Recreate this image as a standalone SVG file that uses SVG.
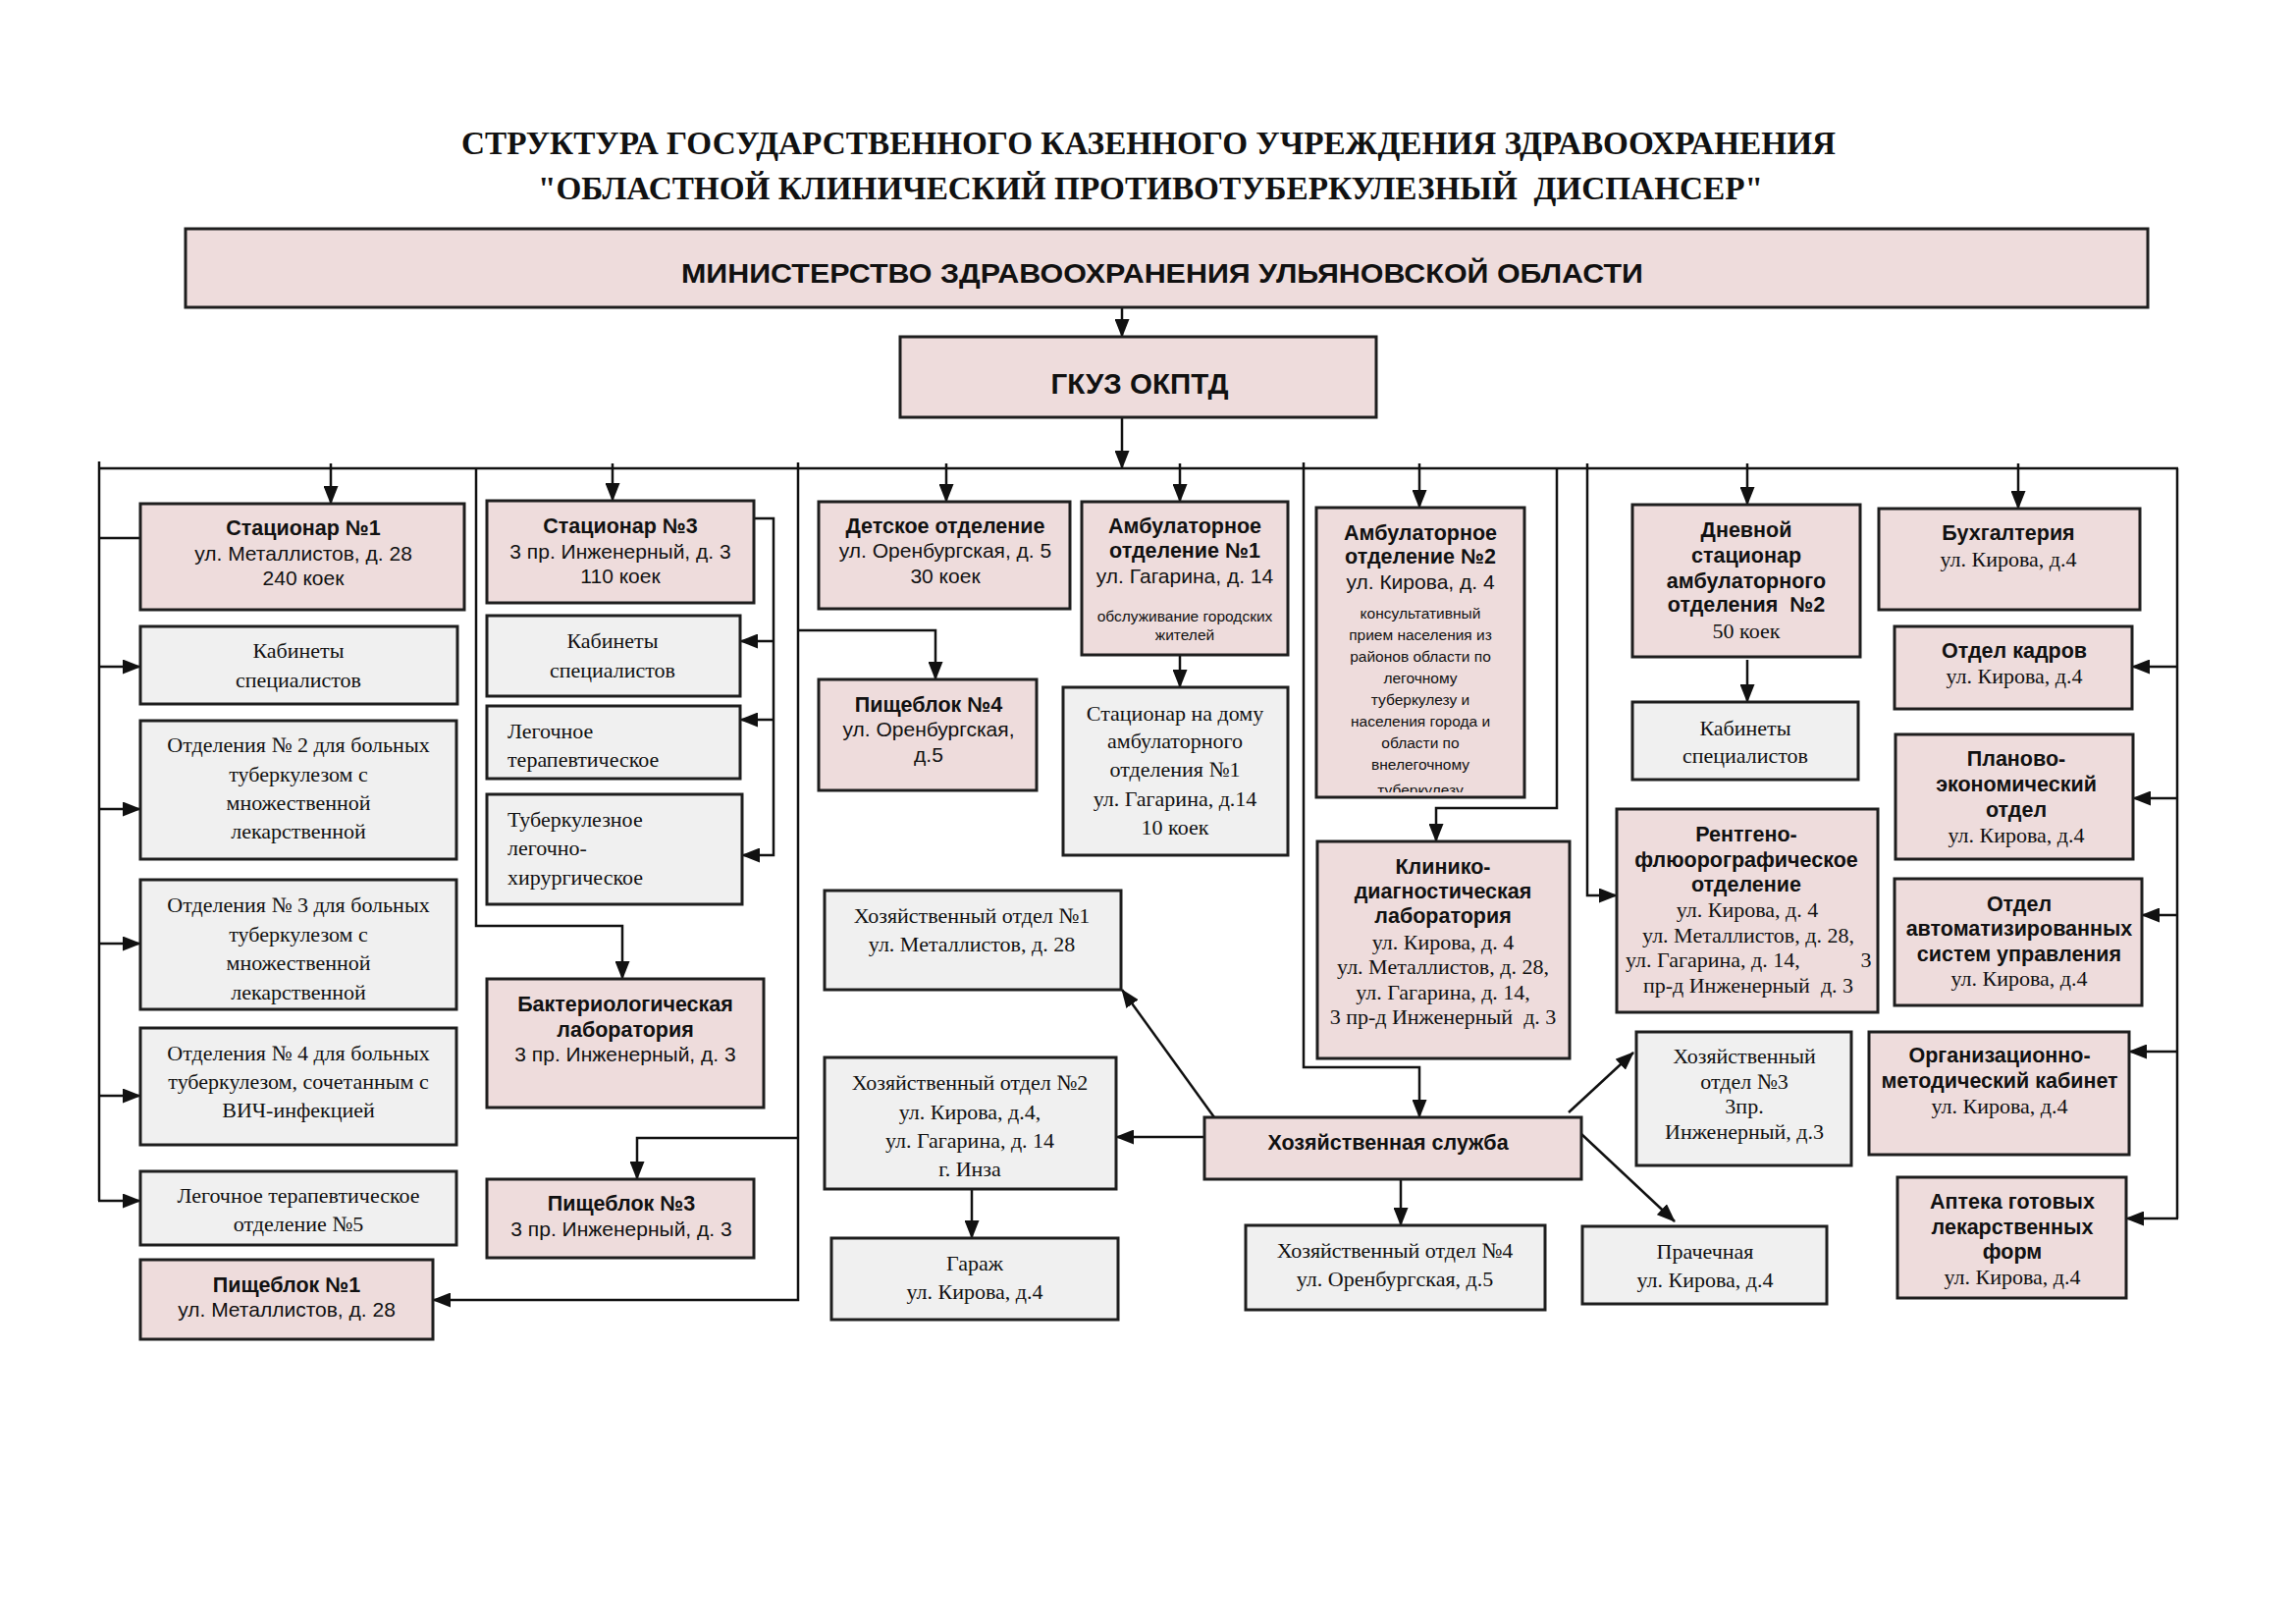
<svg xmlns="http://www.w3.org/2000/svg" width="2339" height="1653" viewBox="0 0 2339 1653">
<style>
.pk{fill:#eedcdc;stroke:#1e1e1e;stroke-width:3}
.gr{fill:#f0f0f0;stroke:#1e1e1e;stroke-width:3}
text{text-anchor:middle;fill:#111}
.h{font-family:"Liberation Serif","Times New Roman",serif;font-weight:bold;font-size:34px}
.m{font-family:"Liberation Sans",Arial,sans-serif;font-weight:bold;font-size:28px}
.g{font-family:"Liberation Sans",Arial,sans-serif;font-weight:bold;font-size:29.5px}
.b{font-family:"Liberation Sans",Arial,sans-serif;font-weight:bold;font-size:21.5px}
.a{font-family:"Liberation Sans",Arial,sans-serif;font-size:21px}
.t{font-family:"Liberation Serif","Times New Roman",serif;font-size:22px}
.s{font-family:"Liberation Sans",Arial,sans-serif;font-size:15.5px}
.l{text-anchor:start}
.c{fill:none;stroke:#111;stroke-width:2.5}
.pre{white-space:pre}
</style>
<defs>
<marker id="ar" markerUnits="userSpaceOnUse" markerWidth="19" markerHeight="15" refX="18" refY="7.5" orient="auto">
<path d="M0,0 L19,7.5 L0,15 z" fill="#111"/>
</marker>
<clipPath id="clipAmb2"><rect x="1342" y="518" width="210" height="289"/></clipPath>
<clipPath id="clipOtd3"><rect x="144" y="897" width="320" height="130"/></clipPath>
</defs>
<rect width="2339" height="1653" fill="#ffffff"/>

<g id="title">
<text class="h" x="1170" y="157" textLength="1400" lengthAdjust="spacingAndGlyphs">СТРУКТУРА ГОСУДАРСТВЕННОГО КАЗЕННОГО УЧРЕЖДЕНИЯ ЗДРАВООХРАНЕНИЯ</text>
<text class="h pre" x="1172" y="203" textLength="1248" lengthAdjust="spacingAndGlyphs">"ОБЛАСТНОЙ КЛИНИЧЕСКИЙ ПРОТИВОТУБЕРКУЛЕЗНЫЙ  ДИСПАНСЕР"</text>
</g>

<g id="connectors">
<line class="c" x1="1143" y1="313" x2="1143" y2="343" marker-end="url(#ar)"/>
<line class="c" x1="1143" y1="425" x2="1143" y2="477" marker-end="url(#ar)"/>
<line class="c" x1="100" y1="477" x2="2219" y2="477"/>
<line class="c" x1="337" y1="472" x2="337" y2="513" marker-end="url(#ar)"/>
<line class="c" x1="624" y1="472" x2="624" y2="510" marker-end="url(#ar)"/>
<line class="c" x1="964" y1="472" x2="964" y2="511" marker-end="url(#ar)"/>
<line class="c" x1="1202" y1="472" x2="1202" y2="511" marker-end="url(#ar)"/>
<line class="c" x1="1446" y1="472" x2="1446" y2="517" marker-end="url(#ar)"/>
<line class="c" x1="1780" y1="472" x2="1780" y2="514" marker-end="url(#ar)"/>
<line class="c" x1="2056" y1="472" x2="2056" y2="518" marker-end="url(#ar)"/>
<polyline class="c" points="101,470 101,1223"/>
<line class="c" x1="101" y1="548" x2="143" y2="548"/>
<line class="c" x1="101" y1="679" x2="143" y2="679" marker-end="url(#ar)"/>
<line class="c" x1="101" y1="824" x2="143" y2="824" marker-end="url(#ar)"/>
<line class="c" x1="101" y1="961" x2="143" y2="961" marker-end="url(#ar)"/>
<line class="c" x1="101" y1="1116" x2="143" y2="1116" marker-end="url(#ar)"/>
<line class="c" x1="100" y1="1223" x2="143" y2="1223" marker-end="url(#ar)"/>
<polyline class="c" points="485,477 485,943 634,943 634,997" marker-end="url(#ar)"/>
<polyline class="c" points="813,471 813,1324 441,1324" marker-end="url(#ar)"/>
<polyline class="c" points="813,642 953,642 953,692" marker-end="url(#ar)"/>
<polyline class="c" points="813,1159 649,1159 649,1201" marker-end="url(#ar)"/>
<polyline class="c" points="768,528 788,528 788,871 756,871" marker-end="url(#ar)"/>
<line class="c" x1="788" y1="653" x2="754" y2="653" marker-end="url(#ar)"/>
<line class="c" x1="788" y1="733" x2="754" y2="733" marker-end="url(#ar)"/>
<line class="c" x1="1202" y1="667" x2="1202" y2="700" marker-end="url(#ar)"/>
<polyline class="c" points="1328,471 1328,1087 1446,1087 1446,1138" marker-end="url(#ar)"/>
<polyline class="c" points="1586,477 1586,823 1463,823 1463,857" marker-end="url(#ar)"/>
<polyline class="c" points="1617,472 1617,912 1647,912" marker-end="url(#ar)"/>
<line class="c" x1="1780" y1="672" x2="1780" y2="715" marker-end="url(#ar)"/>
<line class="c" x1="2218" y1="477" x2="2218" y2="1241"/>
<line class="c" x1="2218" y1="679" x2="2172" y2="679" marker-end="url(#ar)"/>
<line class="c" x1="2218" y1="813" x2="2173" y2="813" marker-end="url(#ar)"/>
<line class="c" x1="2218" y1="932" x2="2182" y2="932" marker-end="url(#ar)"/>
<line class="c" x1="2218" y1="1071" x2="2169" y2="1071" marker-end="url(#ar)"/>
<line class="c" x1="2219" y1="1241" x2="2166" y2="1241" marker-end="url(#ar)"/>
<line class="c" x1="990" y1="1211" x2="990" y2="1261" marker-end="url(#ar)"/>
<line class="c" x1="1237" y1="1138" x2="1143" y2="1008" marker-end="url(#ar)"/>
<line class="c" x1="1227" y1="1158" x2="1137" y2="1158" marker-end="url(#ar)"/>
<line class="c" x1="1427" y1="1201" x2="1427" y2="1248" marker-end="url(#ar)"/>
<line class="c" x1="1598" y1="1133" x2="1664" y2="1072" marker-end="url(#ar)"/>
<line class="c" x1="1611" y1="1155" x2="1706" y2="1244" marker-end="url(#ar)"/>
</g>

<g id="ministry">
<rect class="pk" x="189" y="233" width="1999" height="80"/>
<text class="m" x="1184" y="288" textLength="980" lengthAdjust="spacingAndGlyphs">МИНИСТЕРСТВО ЗДРАВООХРАНЕНИЯ УЛЬЯНОВСКОЙ ОБЛАСТИ</text>
</g>

<g id="gkuz">
<rect class="pk" x="917" y="343" width="485" height="82"/>
<text class="g" x="1161" y="401">ГКУЗ ОКПТД</text>
</g>

<g id="stacionar1">
<rect class="pk" x="143" y="513" width="330" height="108"/>
<text class="b" x="309" y="545">Стационар №1</text>
<text class="a" x="309" y="571">ул. Металлистов, д. 28</text>
<text class="a" x="309" y="596">240 коек</text>
</g>

<g id="kabinety1">
<rect class="gr" x="143" y="638" width="323" height="79"/>
<text class="t" x="304" y="670">Кабинеты</text>
<text class="t" x="304" y="700">специалистов</text>
</g>

<g id="otdelenie2">
<rect class="gr" x="143" y="734" width="322" height="141"/>
<text class="t" x="304" y="766">Отделения № 2 для больных</text>
<text class="t" x="304" y="796">туберкулезом с</text>
<text class="t" x="304" y="825">множественной</text>
<text class="t" x="304" y="854">лекарственной</text>
</g>

<g id="otdelenie3">
<rect class="gr" x="143" y="896" width="322" height="132"/>
<g clip-path="url(#clipOtd3)">
<text class="t" x="304" y="929">Отделения № 3 для больных</text>
<text class="t" x="304" y="959">туберкулезом с</text>
<text class="t" x="304" y="988">множественной</text>
<text class="t" x="304" y="1018">лекарственной</text>
</g>
</g>

<g id="otdelenie4">
<rect class="gr" x="143" y="1047" width="322" height="119"/>
<text class="t" x="304" y="1080">Отделения № 4 для больных</text>
<text class="t" x="304" y="1109">туберкулезом, сочетанным с</text>
<text class="t" x="304" y="1138">ВИЧ-инфекцией</text>
</g>

<g id="legochnoe5">
<rect class="gr" x="143" y="1193" width="322" height="75"/>
<text class="t" x="304" y="1225">Легочное терапевтическое</text>
<text class="t" x="304" y="1254">отделение №5</text>
</g>

<g id="pishcheblok1">
<rect class="pk" x="143" y="1283" width="298" height="81"/>
<text class="b" x="292" y="1316">Пищеблок №1</text>
<text class="a" x="292" y="1341">ул. Металлистов, д. 28</text>
</g>

<g id="stacionar3">
<rect class="pk" x="496" y="510" width="272" height="104"/>
<text class="b" x="632" y="543">Стационар №3</text>
<text class="a" x="632" y="569">3 пр. Инженерный, д. 3</text>
<text class="a" x="632" y="594">110 коек</text>
</g>

<g id="kabinety3">
<rect class="gr" x="496" y="627" width="258" height="82"/>
<text class="t" x="624" y="660">Кабинеты</text>
<text class="t" x="624" y="690">специалистов</text>
</g>

<g id="legochnoe3">
<rect class="gr" x="496" y="719" width="258" height="74"/>
<text class="t l" x="517" y="752">Легочное</text>
<text class="t l" x="517" y="781">терапевтическое</text>
</g>

<g id="tuberkuleznoe3">
<rect class="gr" x="496" y="809" width="260" height="112"/>
<text class="t l" x="517" y="842">Туберкулезное</text>
<text class="t l" x="517" y="871">легочно-</text>
<text class="t l" x="517" y="901">хирургическое</text>
</g>

<g id="bakteriolog">
<rect class="pk" x="496" y="997" width="282" height="131"/>
<text class="b" x="637" y="1030">Бактериологическая</text>
<text class="b" x="637" y="1056">лаборатория</text>
<text class="a" x="637" y="1081">3 пр. Инженерный, д. 3</text>
</g>

<g id="pishcheblok3">
<rect class="pk" x="496" y="1201" width="272" height="80"/>
<text class="b" x="633" y="1233">Пищеблок №3</text>
<text class="a" x="633" y="1259">3 пр. Инженерный, д. 3</text>
</g>

<g id="detskoe">
<rect class="pk" x="834" y="511" width="256" height="109"/>
<text class="b" x="963" y="543">Детское отделение</text>
<text class="a" x="963" y="568">ул. Оренбургская, д. 5</text>
<text class="a" x="963" y="594">30 коек</text>
</g>

<g id="ambulatornoe1">
<rect class="pk" x="1102" y="511" width="210" height="156"/>
<text class="b" x="1207" y="543">Амбулаторное</text>
<text class="b" x="1207" y="568">отделение №1</text>
<text class="a" x="1207" y="594">ул. Гагарина, д. 14</text>
<text class="s" x="1207" y="633">обслуживание городских</text>
<text class="s" x="1207" y="652">жителей</text>
</g>

<g id="pishcheblok4">
<rect class="pk" x="834" y="692" width="222" height="113"/>
<text class="b" x="946" y="725">Пищеблок №4</text>
<text class="a" x="946" y="750">ул. Оренбургская,</text>
<text class="a" x="946" y="776">д.5</text>
</g>

<g id="stacionar-na-domu">
<rect class="gr" x="1083" y="700" width="229" height="171"/>
<text class="t" x="1197" y="734">Стационар на дому</text>
<text class="t" x="1197" y="762">амбулаторного</text>
<text class="t" x="1197" y="791">отделения №1</text>
<text class="t" x="1197" y="821">ул. Гагарина, д.14</text>
<text class="t" x="1197" y="850">10 коек</text>
</g>

<g id="hoz1">
<rect class="gr" x="840" y="907" width="302" height="101"/>
<text class="t" x="990" y="940">Хозяйственный отдел №1</text>
<text class="t" x="990" y="969">ул. Металлистов, д. 28</text>
</g>

<g id="hoz2">
<rect class="gr" x="840" y="1077" width="297" height="134"/>
<text class="t" x="988" y="1110">Хозяйственный отдел №2</text>
<text class="t" x="988" y="1140">ул. Кирова, д.4,</text>
<text class="t" x="988" y="1169">ул. Гагарина, д. 14</text>
<text class="t" x="988" y="1198">г. Инза</text>
</g>

<g id="garazh">
<rect class="gr" x="847" y="1261" width="292" height="83"/>
<text class="t" x="993" y="1294">Гараж</text>
<text class="t" x="993" y="1323">ул. Кирова, д.4</text>
</g>

<g id="hoz-sluzhba">
<rect class="pk" x="1227" y="1138" width="384" height="63"/>
<text class="b" x="1414" y="1171">Хозяйственная служба</text>
</g>

<g id="hoz4">
<rect class="gr" x="1269" y="1248" width="305" height="86"/>
<text class="t" x="1421" y="1281">Хозяйственный отдел №4</text>
<text class="t" x="1421" y="1310">ул. Оренбургская, д.5</text>
</g>

<g id="ambulatornoe2">
<rect class="pk" x="1341" y="517" width="212" height="295"/>
<text class="b" x="1447" y="550">Амбулаторное</text>
<text class="b" x="1447" y="574">отделение №2</text>
<text class="a" x="1447" y="600">ул. Кирова, д. 4</text>
<g clip-path="url(#clipAmb2)">
<text class="s" x="1447" y="630">консультативный</text>
<text class="s" x="1447" y="652">прием населения из</text>
<text class="s" x="1447" y="674">районов области по</text>
<text class="s" x="1447" y="696">легочному</text>
<text class="s" x="1447" y="718">туберкулезу и</text>
<text class="s" x="1447" y="740">населения города и</text>
<text class="s" x="1447" y="762">области по</text>
<text class="s" x="1447" y="784">внелегочному</text>
<text class="s" x="1447" y="810">туберкулезу</text>
</g>
</g>

<g id="kliniko-lab">
<rect class="pk" x="1342" y="857" width="257" height="221"/>
<text class="b" x="1470" y="890">Клинико-</text>
<text class="b" x="1470" y="915">диагностическая</text>
<text class="b" x="1470" y="940">лаборатория</text>
<text class="t" x="1470" y="967">ул. Кирова, д. 4</text>
<text class="t" x="1470" y="992">ул. Металлистов, д. 28,</text>
<text class="t" x="1470" y="1018">ул. Гагарина, д. 14,</text>
<text class="t pre" x="1470" y="1043">3 пр-д Инженерный  д. 3</text>
</g>

<g id="dnevnoy">
<rect class="pk" x="1663" y="514" width="232" height="155"/>
<text class="b" x="1779" y="547">Дневной</text>
<text class="b" x="1779" y="573">стационар</text>
<text class="b" x="1779" y="599">амбулаторного</text>
<text class="b pre" x="1779" y="623">отделения  №2</text>
<text class="t" x="1779" y="650">50 коек</text>
</g>

<g id="kabinety5">
<rect class="gr" x="1663" y="715" width="230" height="79"/>
<text class="t" x="1778" y="749">Кабинеты</text>
<text class="t" x="1778" y="777">специалистов</text>
</g>

<g id="rentgen">
<rect class="pk" x="1647" y="824" width="266" height="207"/>
<text class="b" x="1779" y="857">Рентгено-</text>
<text class="b" x="1779" y="883">флюорографическое</text>
<text class="b" x="1779" y="908">отделение</text>
<text class="t" x="1780" y="934">ул. Кирова, д. 4</text>
<text class="t" x="1781" y="960">ул. Металлистов, д. 28,</text>
<text class="t l" x="1656" y="985">ул. Гагарина, д. 14,</text>
<text class="t" x="1901" y="985">3</text>
<text class="t pre" x="1781" y="1011">пр-д Инженерный  д. 3</text>
</g>

<g id="buhgalteriya">
<rect class="pk" x="1914" y="518" width="266" height="103"/>
<text class="b" x="2046" y="550">Бухгалтерия</text>
<text class="t" x="2046" y="577">ул. Кирова, д.4</text>
</g>

<g id="otdel-kadrov">
<rect class="pk" x="1930" y="638" width="242" height="84"/>
<text class="b" x="2052" y="670">Отдел кадров</text>
<text class="t" x="2052" y="696">ул. Кирова, д.4</text>
</g>

<g id="planovo">
<rect class="pk" x="1931" y="748" width="242" height="127"/>
<text class="b" x="2054" y="780">Планово-</text>
<text class="b" x="2054" y="806">экономический</text>
<text class="b" x="2054" y="832">отдел</text>
<text class="t" x="2054" y="858">ул. Кирова, д.4</text>
</g>

<g id="otdel-asu">
<rect class="pk" x="1930" y="895" width="252" height="129"/>
<text class="b" x="2057" y="928">Отдел</text>
<text class="b" x="2057" y="953">автоматизированных</text>
<text class="b" x="2057" y="979">систем управления</text>
<text class="t" x="2057" y="1004">ул. Кирова, д.4</text>
</g>

<g id="org-metod">
<rect class="pk" x="1904" y="1051" width="265" height="125"/>
<text class="b" x="2037" y="1082">Организационно-</text>
<text class="b" x="2037" y="1108">методический кабинет</text>
<text class="t" x="2037" y="1134">ул. Кирова, д.4</text>
</g>

<g id="apteka">
<rect class="pk" x="1933" y="1199" width="233" height="123"/>
<text class="b" x="2050" y="1231">Аптека готовых</text>
<text class="b" x="2050" y="1257">лекарственных</text>
<text class="b" x="2050" y="1282">форм</text>
<text class="t" x="2050" y="1308">ул. Кирова, д.4</text>
</g>

<g id="hoz3">
<rect class="gr" x="1667" y="1051" width="219" height="136"/>
<text class="t" x="1777" y="1083">Хозяйственный</text>
<text class="t" x="1777" y="1109">отдел №3</text>
<text class="t" x="1777" y="1134">3пр.</text>
<text class="t" x="1777" y="1160">Инженерный, д.3</text>
</g>

<g id="prachechnaya">
<rect class="gr" x="1612" y="1249" width="249" height="79"/>
<text class="t" x="1737" y="1282">Прачечная</text>
<text class="t" x="1737" y="1311">ул. Кирова, д.4</text>
</g>
</svg>
